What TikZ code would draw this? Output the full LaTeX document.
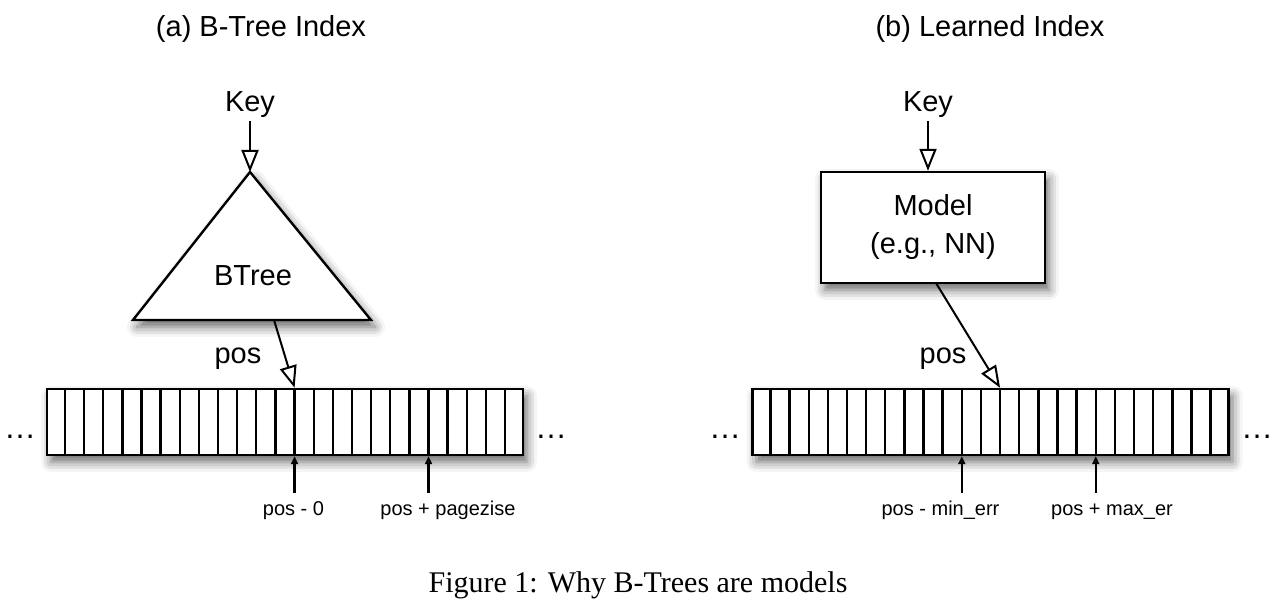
\documentclass[tikz,border=0pt]{standalone}
\usepackage{fontspec}
\setmainfont{Liberation Sans}
\newfontfamily\captionfont{Liberation Serif}
\usetikzlibrary{arrows.meta,calc,shadows.blur}

\begin{document}
\begin{tikzpicture}[%
            x=0.5pt, y=-0.5pt,
            line width=1.2pt,
            myshadow/.style={blur shadow={shadow xshift=2pt, shadow yshift=-3.5pt,
                shadow blur radius=5pt, shadow opacity=60}},
            mybox/.style={draw, fill=white, myshadow},
            myarray/.style={mybox, minimum width=238pt, minimum height=33pt, inner sep=0pt},
            mytext/.style={font=\fontsize{14.5}{19}\selectfont, inner sep=1pt},
            mydots/.style={font=\fontsize{16}{19}\selectfont, inner sep=1pt, anchor=base},
            mysmall/.style={font=\fontsize{10}{12}\selectfont, inner sep=1pt,
                text height=7.2pt, text depth=2pt, anchor=north},
            myarrow/.style={-{Triangle[open, length=11pt, width=8.5pt]}, line width=1pt},
            mypointer/.style={-{Triangle[length=4pt, width=3.5pt]}, line width=1.1pt, shorten <=2.5pt}
    ]
        \useasboundingbox (0,0) rectangle (1280,608);

        % (a) B-Tree index
        \node [mytext, anchor=base] (titleA) at (261,37) {(a) B-Tree Index};
        \node [mytext, anchor=base] (keyA) at (250,112) {Key};

        \filldraw [fill=white, myshadow]
            (250,172) coordinate (apex) -- (371,320) -- (133,320) -- cycle;
        \node [mytext] (btree) at (253,276) {BTree};
        \coordinate (posA) at (274,320);

        \node [myarray] (arrA) at (285,422) {};
        \foreach \i in {1,...,24}
            \draw ($(arrA.north west)!\i/25!(arrA.north east)$) --
                  ($(arrA.south west)!\i/25!(arrA.south east)$);
        \node [mydots] (dotsAL) at (20,439) {…};
        \node [mydots] (dotsAR) at (551,439) {…};

        \draw [myarrow] (keyA.south) -- (apex);
        \draw [myarrow] (posA) -- ($(arrA.north west)!13/25!(arrA.north east)$);
        \node [mytext] (posAlbl) at (238,359) {pos};

        \coordinate (ptrA1) at ($(arrA.south west)!13/25!(arrA.south east)$);
        \coordinate (ptrA2) at ($(arrA.south west)!20/25!(arrA.south east)$);
        \node [mysmall] (lowA) at (293.5,498) {pos - 0};
        \node [mysmall] (highA) at (448,498) {pos + pagezise};
        \draw [mypointer] (ptrA1 |- lowA.north) -- (ptrA1);
        \draw [mypointer] (ptrA2 |- highA.north) -- (ptrA2);

        % (b) learned index
        \node [mytext, anchor=base] (titleB) at (990,37) {(b) Learned Index};
        \node [mytext, anchor=base] (keyB) at (928,112) {Key};

        \node [mybox, mytext, align=center, minimum width=112pt, minimum height=55.5pt]
            (model) at (933,227.5) {Model\\(e.g., NN)};
        \coordinate (posB) at (936,283);

        \node [myarray] (arrB) at (990.5,422) {};
        \foreach \i in {1,...,24}
            \draw ($(arrB.north west)!\i/25!(arrB.north east)$) --
                  ($(arrB.south west)!\i/25!(arrB.south east)$);
        \node [mydots] (dotsBL) at (725,439) {…};
        \node [mydots] (dotsBR) at (1257,439) {…};

        \draw [myarrow] (keyB.south) -- (keyB.south |- model.north);
        \draw [myarrow] (posB) -- ($(arrB.north west)!13/25!(arrB.north east)$);
        \node [mytext] (posBlbl) at (943,359) {pos};

        \coordinate (ptrB1) at ($(arrB.south west)!11/25!(arrB.south east)$);
        \coordinate (ptrB2) at ($(arrB.south west)!18/25!(arrB.south east)$);
        \node [mysmall] (lowB) at (940.5,498) {pos - min\_err};
        \node [mysmall] (highB) at (1112,498) {pos + max\_er};
        \draw [mypointer] (ptrB1 |- lowB.north) -- (ptrB1);
        \draw [mypointer] (ptrB2 |- highB.north) -- (ptrB2);

        % caption
        \node [font=\captionfont\fontsize{15}{18}\selectfont, anchor=base] (caption)
            at (638,593) {Figure 1: Why B-Trees are models};
    \end{tikzpicture}
\end{document}
